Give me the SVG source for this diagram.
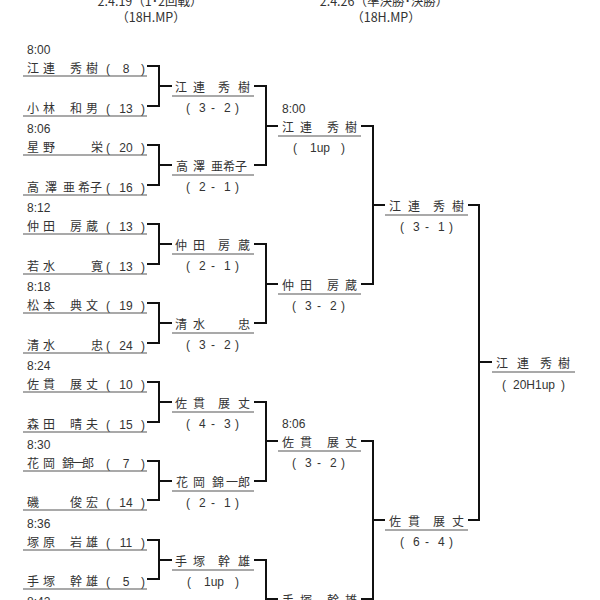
<svg xmlns="http://www.w3.org/2000/svg" width="600" height="600" viewBox="0 0 600 600">
<style>
text { font-family: "Liberation Sans", "Noto Sans CJK JP", sans-serif; font-size: 12px; fill: #333; }
.n { font-family: "Noto Sans CJK JP", sans-serif; font-size: 12px; }
.h { font-family: "Noto Sans CJK JP", sans-serif; font-size: 12.5px; text-anchor: middle; }
.m { text-anchor: middle; }
.ul { stroke: #555; stroke-width: 1.2; fill: none; }
.c { stroke: #111; stroke-width: 2; fill: none; }
</style>
<rect width="600" height="600" fill="#fff"/>

<g id="headers">
<text class="h" x="150" y="6">2.4.19（1･2回戦）</text>
<text class="h" x="151" y="22">（18H.MP）</text>
<text class="h" x="384" y="6">2.4.26（準決勝･決勝）</text>
<text class="h" x="386" y="22">（18H.MP）</text>
</g>

<g id="times">
<text x="27" y="54">8:00</text>
<text x="27" y="133">8:06</text>
<text x="27" y="212">8:12</text>
<text x="27" y="291">8:18</text>
<text x="27" y="370">8:24</text>
<text x="27" y="449">8:30</text>
<text x="27" y="528">8:36</text>
<text x="27" y="606">8:42</text>
<text x="282" y="113">8:00</text>
<text x="282" y="428">8:06</text>
</g>

<g id="connectors">
<path class="c" d="M147 66H159V106H147M159 86H172"/>
<path class="c" d="M147 145H159V185H147M159 165H172"/>
<path class="c" d="M147 224H159V264H147M159 244H172"/>
<path class="c" d="M147 303H159V343H147M159 323H172"/>
<path class="c" d="M147 382H159V422H147M159 402H172"/>
<path class="c" d="M147 461H159V500H147M159 481H172"/>
<path class="c" d="M147 540H159V579H147M159 560H172"/>
<path class="c" d="M254 86H266V165H254M266 126H278"/>
<path class="c" d="M254 244H266V323H254M266 284H278"/>
<path class="c" d="M254 402H266V481H254M266 441H278"/>
<path class="c" d="M254 560H266V640M266 599H278"/>
<path class="c" d="M361 126H373V284H361M373 205H385"/>
<path class="c" d="M361 441H373V599H361M373 520H385"/>
<path class="c" d="M468 205H479V520H468M479 362H492"/>
</g>

<g id="r1-0"><text class="n" x="27 43 70 86" y="73">江連秀樹</text><text x="106" y="73">(</text><text class="m" x="126" y="73">8</text><text x="141" y="73">)</text><path class="ul" d="M23 76H147"/></g>
<g id="r1-1"><text class="n" x="27 43 70 86" y="113">小林和男</text><text x="106" y="113">(</text><text class="m" x="126" y="113">13</text><text x="141" y="113">)</text><path class="ul" d="M23 116H147"/></g>
<g id="r1-2"><text class="n" x="27 43 91" y="152">星野栄</text><text x="106" y="152">(</text><text class="m" x="126" y="152">20</text><text x="141" y="152">)</text><path class="ul" d="M23 155H147"/></g>
<g id="r1-3"><text class="n" x="27 45 63 78 90" y="192">高澤亜希子</text><text x="106" y="192">(</text><text class="m" x="126" y="192">16</text><text x="141" y="192">)</text><path class="ul" d="M23 195H147"/></g>
<g id="r1-4"><text class="n" x="27 43 70 86" y="231">仲田房蔵</text><text x="106" y="231">(</text><text class="m" x="126" y="231">13</text><text x="141" y="231">)</text><path class="ul" d="M23 234H147"/></g>
<g id="r1-5"><text class="n" x="27 43 91" y="271">若水寛</text><text x="106" y="271">(</text><text class="m" x="126" y="271">13</text><text x="141" y="271">)</text><path class="ul" d="M23 274H147"/></g>
<g id="r1-6"><text class="n" x="27 43 70 86" y="310">松本典文</text><text x="106" y="310">(</text><text class="m" x="126" y="310">19</text><text x="141" y="310">)</text><path class="ul" d="M23 313H147"/></g>
<g id="r1-7"><text class="n" x="27 43 91" y="350">清水忠</text><text x="106" y="350">(</text><text class="m" x="126" y="350">24</text><text x="141" y="350">)</text><path class="ul" d="M23 353H147"/></g>
<g id="r1-8"><text class="n" x="27 43 70 86" y="389">佐貫展丈</text><text x="106" y="389">(</text><text class="m" x="126" y="389">10</text><text x="141" y="389">)</text><path class="ul" d="M23 392H147"/></g>
<g id="r1-9"><text class="n" x="27 43 70 86" y="429">森田晴夫</text><text x="106" y="429">(</text><text class="m" x="126" y="429">15</text><text x="141" y="429">)</text><path class="ul" d="M23 432H147"/></g>
<g id="r1-10"><text class="n" x="27 43 62 72 82" y="468">花岡錦一郎</text><text x="106" y="468">(</text><text class="m" x="126" y="468">7</text><text x="141" y="468">)</text><path class="ul" d="M23 471H147"/></g>
<g id="r1-11"><text class="n" x="27 70 86" y="507">磯俊宏</text><text x="106" y="507">(</text><text class="m" x="126" y="507">14</text><text x="141" y="507">)</text><path class="ul" d="M23 510H147"/></g>
<g id="r1-12"><text class="n" x="27 43 70 86" y="547">塚原岩雄</text><text x="106" y="547">(</text><text class="m" x="126" y="547">11</text><text x="141" y="547">)</text><path class="ul" d="M23 550H147"/></g>
<g id="r1-13"><text class="n" x="27 43 70 86" y="586">手塚幹雄</text><text x="106" y="586">(</text><text class="m" x="126" y="586">5</text><text x="141" y="586">)</text><path class="ul" d="M23 589H147"/></g>

<g id="r2-0"><text class="n" x="175 193 218 238" y="92">江連秀樹</text><path class="ul" d="M172 96H254"/><text x="186 199 211 224 235" y="112">(3-2)</text></g>
<g id="r2-1"><text class="n" x="176 193 211 223 235" y="171">高澤亜希子</text><path class="ul" d="M172 175H254"/><text x="186 199 211 224 235" y="191">(2-1)</text></g>
<g id="r2-2"><text class="n" x="175 193 218 238" y="250">仲田房蔵</text><path class="ul" d="M172 254H254"/><text x="186 199 211 224 235" y="270">(2-1)</text></g>
<g id="r2-3"><text class="n" x="175 193 238" y="329">清水忠</text><path class="ul" d="M172 333H254"/><text x="186 199 211 224 235" y="349">(3-2)</text></g>
<g id="r2-4"><text class="n" x="175 193 218 238" y="408">佐貫展丈</text><path class="ul" d="M172 412H254"/><text x="186 199 211 224 235" y="428">(4-3)</text></g>
<g id="r2-5"><text class="n" x="176 193 212 226 238" y="487">花岡錦一郎</text><path class="ul" d="M172 491H254"/><text x="186 199 211 224 235" y="507">(2-1)</text></g>
<g id="r2-6"><text class="n" x="175 193 218 238" y="566">手塚幹雄</text><path class="ul" d="M172 570H254"/><text y="586"><tspan x="187">(</tspan><tspan class="m" x="214">1up</tspan><tspan x="235">)</tspan></text></g>

<g id="r3-0"><text class="n" x="282 300 327 345" y="132">江連秀樹</text><path class="ul" d="M278 136H361"/><text y="152"><tspan x="293">(</tspan><tspan class="m" x="320">1up</tspan><tspan x="341">)</tspan></text></g>
<g id="r3-1"><text class="n" x="282 300 327 345" y="290">仲田房蔵</text><path class="ul" d="M278 294H361"/><text x="292 305 317 330 341" y="310">(3-2)</text></g>
<g id="r3-2"><text class="n" x="282 300 327 345" y="447">佐貫展丈</text><path class="ul" d="M278 451H361"/><text x="292 305 317 330 341" y="467">(3-2)</text></g>
<g id="r3-3"><text class="n" x="282 300 327 345" y="605">手塚幹雄</text></g>

<g id="r4-0"><text class="n" x="389 408 433 452" y="211">江連秀樹</text><path class="ul" d="M385 215H468"/><text x="400 413 425 438 449" y="231">(3-1)</text></g>
<g id="r4-1"><text class="n" x="389 408 433 452" y="526">佐貫展丈</text><path class="ul" d="M385 530H468"/><text x="400 413 425 438 449" y="546">(6-4)</text></g>

<g id="final"><text class="n" x="496 517 540 558" y="368">江連秀樹</text><path class="ul" d="M492 372H575"/><text y="389"><tspan x="502">(</tspan><tspan class="m" x="534">20H1up</tspan><tspan x="561">)</tspan></text></g>
</svg>
